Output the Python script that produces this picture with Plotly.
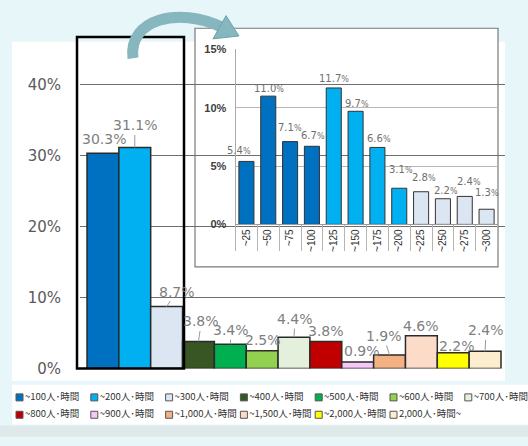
import plotly.graph_objects as go

W, H = 528, 446

# ---------------- data ----------------
main_labels = ["~100人･時間", "~200人･時間", "~300人･時間", "~400人･時間", "~500人･時間",
               "~600人･時間", "~700人･時間", "~800人･時間", "~900人･時間", "~1,000人･時間",
               "~1,500人･時間", "~2,000人･時間", "2,000人･時間~"]
main_values = [30.3, 31.1, 8.7, 3.8, 3.4, 2.5, 4.4, 3.8, 0.9, 1.9, 4.6, 2.2, 2.4]
main_colors = ["#0070c0", "#00b0f0", "#dce6f2", "#375623", "#00b050", "#92d050", "#e4efdc",
               "#c00000", "#f5c8f5", "#f4b183", "#fcdcc8", "#ffff00", "#fdedcf"]

inset_labels = ["~25", "~50", "~75", "~100", "~125", "~150", "~175", "~200",
                "~225", "~250", "~275", "~300"]
inset_values = [5.4, 11.0, 7.1, 6.7, 11.7, 9.7, 6.6, 3.1, 2.8, 2.2, 2.4, 1.3]
inset_colors = ["#0070c0"] * 4 + ["#00b0f0"] * 4 + ["#dce6f2"] * 4

main_ticks = [0, 10, 20, 30, 40]
main_ticktext = [f"{t}%" for t in main_ticks]
inset_ticks = [0, 5, 10, 15]
inset_ticktext = [f"{t}%" for t in inset_ticks]

# label offsets (px) and whether a leader line is drawn
main_off = [(1, -14, False), (0, -22, True), (10, -15, True), (3, -20, True), (1, -14, True),
            (1, -11, False), (1, -18, True), (0, -10, False), (4, -11, False), (-6, -19, True),
            (0, -10, False), (4, -7, False), (1, -21, True)]
inset_off = [(-7, -11), (1, -8), (0, -14), (1, -11), (0, -9), (1, -8), (2, -9), (2, -19),
             (3, -14), (3, -8), (4, -15), (0, -17)]


def X(p):
    return p / W


def Y(p):
    return 1 - p / H


fig = go.Figure()

# main bars
fig.add_trace(go.Bar(x=main_labels, y=main_values, width=1,
                     marker=dict(color=main_colors, line=dict(color="#2a2a2a", width=1.5)),
                     xaxis="x", yaxis="y", showlegend=False, hoverinfo="skip"))

# inset bars
fig.add_trace(go.Bar(x=inset_labels, y=inset_values, width=0.69,
                     marker=dict(color=inset_colors, line=dict(color="#333333", width=1)),
                     xaxis="x2", yaxis="y2", showlegend=False, hoverinfo="skip"))

# legend drawn as a marker+text trace on a hidden axis
ncol = 7
fig.add_trace(go.Scatter(
    x=[i % ncol for i in range(len(main_labels))],
    y=[i // ncol for i in range(len(main_labels))],
    mode="markers+text", text=main_labels, textposition="middle right",
    textfont=dict(family="Noto Sans CJK JP", size=9.5, color="#333333"),
    marker=dict(symbol="square", size=7, color=main_colors, line=dict(color="#555555", width=1)),
    xaxis="x3", yaxis="y3", showlegend=False, hoverinfo="skip", cliponaxis=False))

# ---------------- axes ----------------
unit = (501 - 87) / 13.0
xr0 = -0.5 - (87 - 80) / unit
xr1 = 12.5 + (505 - 501) / unit
ppu = (375 - 81) / 40.0
top_px = 375 - 45 * ppu

annotations = []
for i, (lab, v) in enumerate(zip(main_labels, main_values)):
    dx, dy, lead = main_off[i]
    annotations.append(dict(
        x=lab, y=v, xref="x", yref="y", text=f"{v:.1f}%", showarrow=True,
        ax=dx, ay=dy, arrowhead=0, arrowwidth=1, standoff=0,
        arrowcolor="#9a9a9a" if lead else "rgba(0,0,0,0)",
        font=dict(family="DejaVu Sans", size=14, color="#7f7f7f")))

for i, (lab, v) in enumerate(zip(inset_labels, inset_values)):
    dx, dy = inset_off[i]
    annotations.append(dict(
        x=lab, y=v, xref="x2", yref="y2",
        text=f"{v:.1f}<span style='font-size:8px'>%</span>", showarrow=False,
        xshift=dx, yshift=-dy,
        font=dict(family="DejaVu Sans", size=10, color="#6f6f6f")))

# inset box in x2/y2 domain units
ix0, ix1 = 235.5, 497.5
iy0, iy1 = 226, 45


def dx2(p):
    return (p - ix0) / (ix1 - ix0)


def dy2(p):
    return (iy0 - p) / (iy0 - iy1)


shapes = [
    # white chart panel
    dict(type="rect", xref="paper", yref="paper", x0=X(12), x1=X(505), y0=Y(388), y1=Y(37),
         fillcolor="white", line=dict(width=0), layer="below"),
    # legend panel
    dict(type="rect", xref="paper", yref="paper", x0=X(12), x1=X(528), y0=Y(433), y1=Y(392),
         fillcolor="white", line=dict(width=0), layer="below"),
    # bottom strip
    dict(type="rect", xref="paper", yref="paper", x0=0, x1=1, y0=0, y1=Y(434),
         fillcolor="#dfe9ea", line=dict(width=0), layer="below"),
    # inset white box
    dict(type="rect", xref="x2 domain", yref="y2 domain", x0=dx2(195), x1=dx2(498),
         y0=dy2(270), y1=dy2(23), fillcolor="white",
         line=dict(color="#7a7a7a", width=1.2), layer="below"),
    # highlight rectangle around first three bars
    dict(type="rect", xref="paper", yref="paper", x0=X(77), x1=X(184), y0=Y(375), y1=Y(32),
         line=dict(color="black", width=2.5), layer="above"),
    # curved arrow body
    dict(type="path", xref="paper", yref="paper",
         path=f"M {X(133)},{Y(54)} C {X(128)},{Y(14)} {X(178)},{Y(0)} {X(222)},{Y(22)}",
         line=dict(color="#86b6be", width=11), layer="above"),
    # arrow head
    dict(type="path", xref="paper", yref="paper",
         path=f"M {X(226)},{Y(10)} L {X(239)},{Y(31)} L {X(213)},{Y(34)} Z",
         fillcolor="#86b6be", line=dict(color="#6fa3ad", width=1), layer="above"),
]

fig.update_layout(
    width=W, height=H, margin=dict(l=0, r=0, t=0, b=0),
    paper_bgcolor="#e7f6f8", plot_bgcolor="rgba(0,0,0,0)",
    barmode="overlay", showlegend=False,
    xaxis=dict(domain=[X(80), X(505)], range=[xr0, xr1], type="category",
               showticklabels=False, showgrid=False, zeroline=False, showline=False, ticks=""),
    yaxis=dict(domain=[Y(375), Y(top_px)], range=[0, 45], tickmode="array",
               tickvals=main_ticks, ticktext=main_ticktext,
               showgrid=True, gridcolor="#6e6e6e", gridwidth=1,
               zeroline=False, showline=False, ticks="", ticklabelstandoff=18,
               tickfont=dict(family="DejaVu Sans", size=15, color="#5a5a5a")),
    xaxis2=dict(domain=[X(ix0), X(ix1)], range=[-0.5, 11.5], type="category",
                anchor="y2", tickangle=-90, ticks="outside", tickson="boundaries",
                ticklen=26, tickcolor="#b5b5b5", showline=True, linecolor="#9a9a9a",
                showgrid=False, zeroline=False,
                tickfont=dict(family="Liberation Sans", size=10, color="#333333")),
    yaxis2=dict(domain=[Y(iy0), Y(iy1)], range=[0, 15], anchor="x2", tickmode="array",
                tickvals=inset_ticks, ticktext=inset_ticktext,
                showgrid=True, gridcolor="#b8b8b8", gridwidth=1,
                zeroline=False, showline=True, linecolor="#aaaaaa", ticks="",
                ticklabelstandoff=6,
                tickfont=dict(family="Liberation Sans", size=11, color="#404040", weight="bold")),
    xaxis3=dict(domain=[X(19.5), X(19.5 + 74.8 * 6)], range=[0, 6], visible=False,
                anchor="y3"),
    yaxis3=dict(domain=[Y(423), Y(405)], range=[1, 0], visible=False, anchor="x3"),
    annotations=annotations, shapes=shapes,
)

fig.write_html("out.html")
